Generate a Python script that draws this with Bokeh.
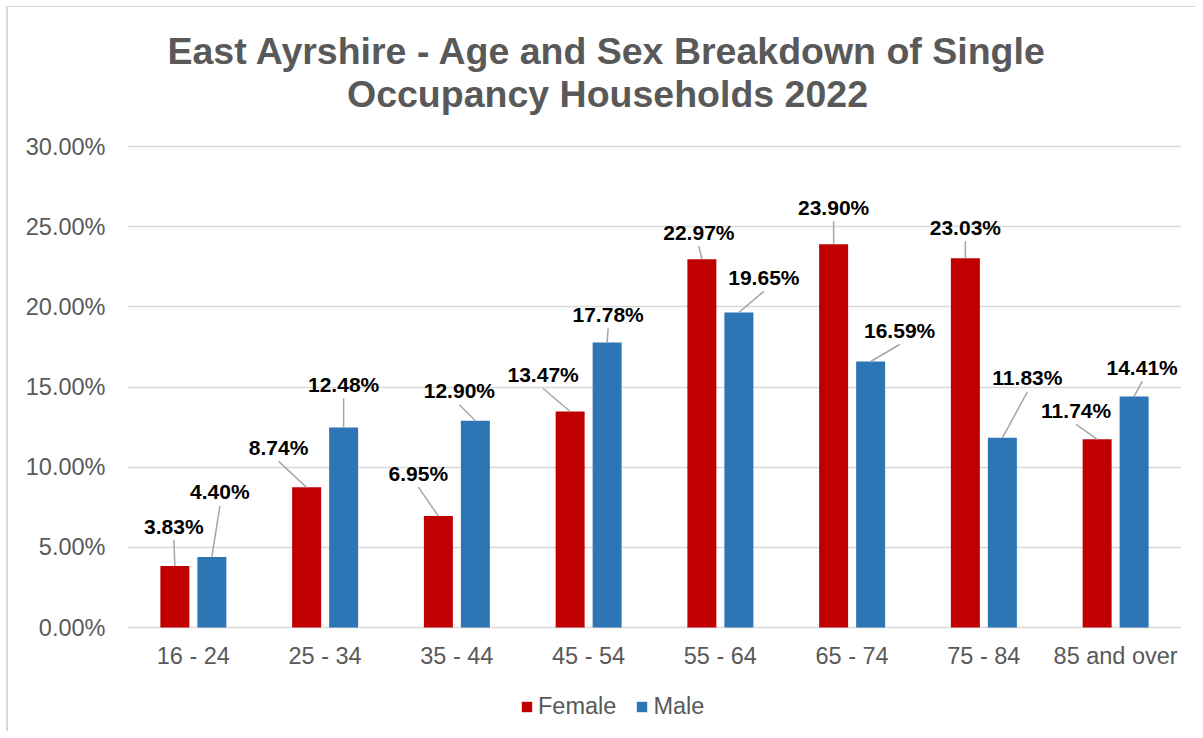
from bokeh.plotting import figure
from bokeh.models import FixedTicker, Legend, LegendItem, Range1d
from bokeh.core.properties import value
from bokeh.embed import file_html
from bokeh.resources import INLINE

# ---- data ----
categories = ["16 - 24", "25 - 34", "35 - 44", "45 - 54", "55 - 64", "65 - 74", "75 - 84", "85 and over"]
female = [3.83, 8.74, 6.95, 13.47, 22.97, 23.90, 23.03, 11.74]
male = [4.40, 12.48, 12.90, 17.78, 19.65, 16.59, 11.83, 14.41]
y_ticks = [0, 5, 10, 15, 20, 25, 30]
y_tick_labels = ["0.00%", "5.00%", "10.00%", "15.00%", "20.00%", "25.00%", "30.00%"]
title_lines = ["East Ayrshire - Age and Sex Breakdown of Single", "Occupancy Households 2022"]

# label placement offsets (pixels, relative to bar top centre)
female_label_dx = [-1, -28, -20, -27, -3, 0, 0, -21]
female_label_dy = [40, 40, 43, 37, 27, 37, 31, 29]
male_label_dx = [8, 0, -16, 1, 25, 29, 25, 8]
male_label_dy = [65, 43, 30, 28, 35, 31, 60, 29]

FONT = "Liberation Sans"
GREY = "#595959"
RED = "#C00000"
BLUE = "#2E75B6"

# layout (pixels)
PLOT_W = 1054          # width of the category area
PLOT_H = 481           # height of the 0-30% area
TOP_SPACE = 139        # space above the 30% line (title)
BOTTOM_SPACE = 104     # space below the 0% line (axis labels + legend)
n = len(categories)
px_x = PLOT_W / n
y_max = 30
px_y = PLOT_H / y_max
bar_off = 18.5 / px_x
bar_w = 29 / px_x

p = figure(frame_width=PLOT_W, frame_height=TOP_SPACE + PLOT_H + BOTTOM_SPACE,
           x_range=Range1d(0, n),
           y_range=Range1d(-BOTTOM_SPACE / px_y, y_max + TOP_SPACE / px_y),
           output_backend="svg", toolbar_location=None,
           min_border_left=119, min_border_right=14,
           min_border_top=0, min_border_bottom=0)
p.title = None
p.styles = {"border-left": "2px solid #d9d9d9", "border-top": "1px solid #d9d9d9",
            "margin-left": "6px", "margin-top": "6px"}
p.outline_line_color = None
p.background_fill_color = "white"
p.border_fill_color = "white"

# title (two centred lines)
title_x = (607 - 127) / px_x
p.text(x=[title_x, title_x],
       y=[y_max + 96 / px_y, y_max + 53 / px_y],
       text=title_lines, text_font=value(FONT), text_font_size="37.5px",
       text_font_style="bold", text_color=GREY,
       text_align="center", text_baseline="middle")

xc = [i + 0.5 for i in range(n)]
xf = [x - bar_off for x in xc]
xm = [x + bar_off for x in xc]

rf = p.vbar(x=xf, top=female, width=bar_w, fill_color=RED, line_color=None)
rm = p.vbar(x=xm, top=male, width=bar_w, fill_color=BLUE, line_color=None)

# leader lines and labels
def add_labels(xs, vals, dxs, dys):
    tx = [x + dx / px_x for x, dx in zip(xs, dxs)]
    ty = [v + dy / px_y for v, dy in zip(vals, dys)]
    ly = [v + (dy - 14) / px_y for v, dy in zip(vals, dys)]
    p.segment(x0=xs, y0=vals, x1=tx, y1=ly, line_color="#a6a6a6", line_width=1.5)
    p.text(x=tx, y=ty, text=["%.2f%%" % v for v in vals],
           text_font=value(FONT), text_font_size="21px", text_font_style="bold",
           text_align="center", text_baseline="middle", text_color="black")

add_labels(xf, female, female_label_dx, female_label_dy)
add_labels(xm, male, male_label_dx, male_label_dy)

# axes
p.xaxis.fixed_location = 0
p.xaxis.ticker = FixedTicker(ticks=xc)
p.xaxis.major_label_overrides = {x: c for x, c in zip(xc, categories)}
p.xaxis.axis_line_color = None
p.xaxis.major_tick_line_color = None
p.xaxis.minor_tick_line_color = None
p.xaxis.major_label_text_font = FONT
p.xaxis.major_label_text_font_size = "23.5px"
p.xaxis.major_label_text_color = GREY
p.xaxis.major_label_standoff = 9

p.yaxis.ticker = FixedTicker(ticks=y_ticks)
p.yaxis.major_label_overrides = {t: s for t, s in zip(y_ticks, y_tick_labels)}
p.yaxis.axis_line_color = None
p.yaxis.major_tick_line_color = None
p.yaxis.minor_tick_line_color = None
p.yaxis.major_label_text_font = FONT
p.yaxis.major_label_text_font_size = "23.5px"
p.yaxis.major_label_text_color = GREY
p.yaxis.major_label_standoff = 16

p.xgrid.grid_line_color = None
p.ygrid.ticker = FixedTicker(ticks=y_ticks)
p.ygrid.grid_line_color = "#d9d9d9"
p.ygrid.grid_line_width = 1.5

legend = Legend(items=[LegendItem(label="Female", renderers=[rf]),
                       LegendItem(label="Male", renderers=[rm])],
                orientation="horizontal", location=(393, BOTTOM_SPACE - 93),
                glyph_width=13, glyph_height=13, label_standoff=5, spacing=19,
                label_text_font=FONT, label_text_font_size="23.5px", label_text_color=GREY,
                border_line_color=None, background_fill_alpha=0,
                padding=0, margin=0)
p.add_layout(legend)

open("out.html", "w").write(file_html(p, INLINE))
